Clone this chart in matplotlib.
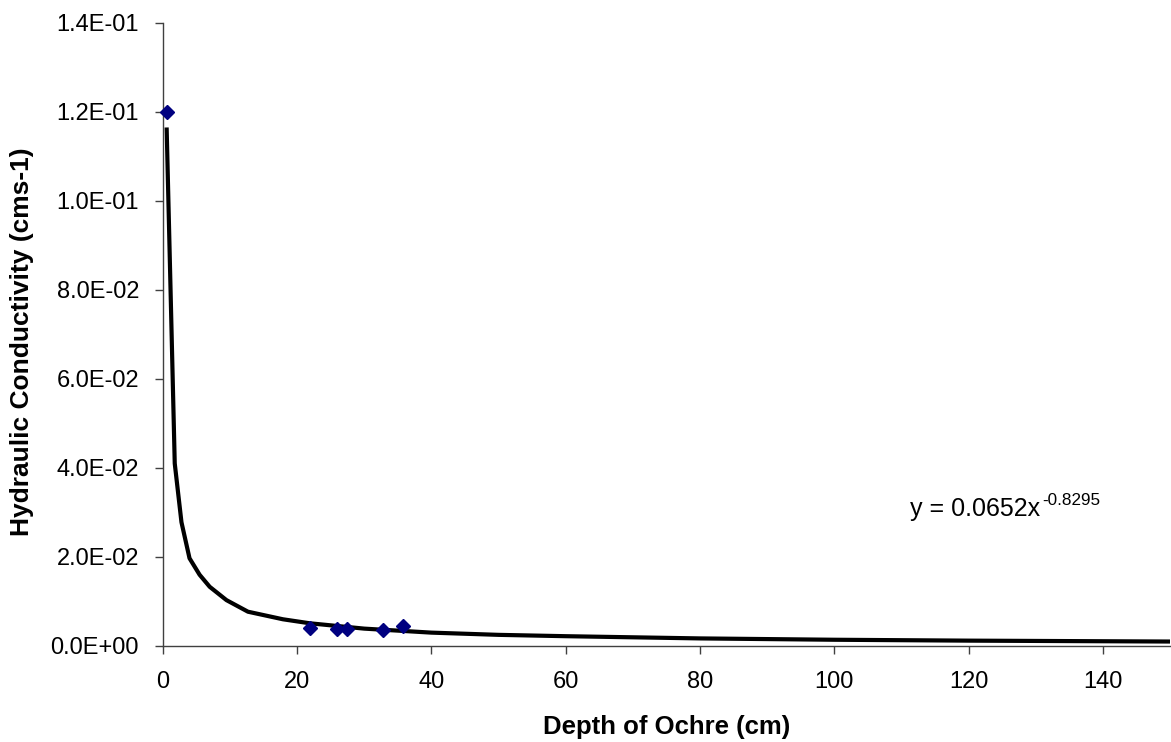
import matplotlib
matplotlib.use("Agg")
import matplotlib.pyplot as plt

# measured data (depth cm, hydraulic conductivity cm/s)
depth = [0.6, 21.9, 26.0, 27.5, 32.8, 35.8]
conductivity = [0.120, 0.0041, 0.0039, 0.0039, 0.0036, 0.0046]

# power trendline
trend_x = [0.6, 1.8, 2.8, 4.0, 5.5, 7.0, 9.5, 12.7, 17.9, 21.9, 30.0, 40.0,
           50.0, 60.0, 80.0, 100.0, 120.0, 150.0]
trend_y = [0.116, 0.041, 0.0278, 0.0197, 0.0160, 0.0133, 0.0103, 0.0077,
           0.0060, 0.0051, 0.0039, 0.0030, 0.0025, 0.0022, 0.0017, 0.0014,
           0.0012, 0.0010]

x_ticks = [0, 20, 40, 60, 80, 100, 120, 140]
y_ticks = [0.0, 0.02, 0.04, 0.06, 0.08, 0.10, 0.12, 0.14]
y_tick_labels = ["0.0E+00", "2.0E-02", "4.0E-02", "6.0E-02", "8.0E-02",
                 "1.0E-01", "1.2E-01", "1.4E-01"]
equation_base = "y = 0.0652x"
equation_exp = "-0.8295"

plt.rcParams['font.family'] = ['Liberation Sans', 'DejaVu Sans']

fig = plt.figure(figsize=(11.71, 7.42), dpi=100)
ax = fig.add_axes([0.1389, 0.1294, 0.8605, 0.8400])

ax.plot(trend_x, trend_y, color='black', lw=3.0, solid_joinstyle='round', zorder=2)
ax.plot(depth, conductivity, linestyle='none', marker='D', ms=7.5,
        color='#000080', markeredgecolor='#000080', zorder=3, clip_on=False)

ax.set_xlim(0, 150)
ax.set_ylim(0, 0.14)
ax.set_xticks(x_ticks)
ax.set_yticks(y_ticks)
ax.set_yticklabels(y_tick_labels)

for s in ['top', 'right']:
    ax.spines[s].set_visible(False)
for s in ['left', 'bottom']:
    ax.spines[s].set_color('#404040')
    ax.spines[s].set_linewidth(1.0)

ax.tick_params(axis='both', direction='out', length=6, width=1, color='#404040',
               labelsize=17)
ax.tick_params(axis='y', pad=11)
ax.tick_params(axis='x', pad=12)

ax.set_xlabel("Depth of Ochre (cm)", fontsize=18.5, fontweight='bold', labelpad=16)
ax.set_ylabel("Hydraulic Conductivity (cms-1)", fontsize=19, fontweight='bold')
ax.yaxis.set_label_coords(-0.1277, 0.489)

t = ax.text(111.3, 0.0292, equation_base, fontsize=18, ha='left', va='baseline')
ax.annotate(equation_exp, xy=(1.0, 0.0), xycoords=t, xytext=(1, 9),
            textcoords='offset points', fontsize=12.3, ha='left', va='bottom')

fig.savefig("out.png", dpi=100)
